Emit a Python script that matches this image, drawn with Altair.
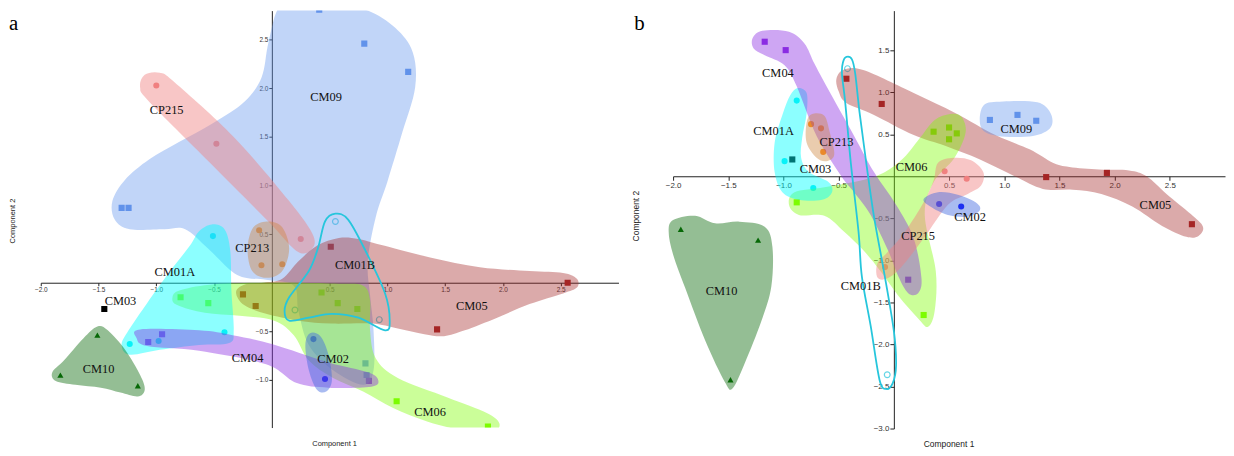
import altair as alt
import pandas as pd

# ======================= PANEL a : data =======================
A_PT_GROUP = (["CM09"] * 7 + ["CP215"] * 3 + ["CP213"] * 3 + ["CM05"] * 5 + ["CM06"] * 7
              + ["CM04"] * 3 + ["CM01A"] * 4 + ["CM03"] + ["CM10"] * 3 + ["CM02"] * 2)
A_PT_X = [0.41, 0.80, 1.18, -1.30, -1.24, 0.81, 0.82,
          -1.00, -0.48, 0.25,
          -0.11, -0.09, 0.09,
          -0.25, -0.14, 0.51, 2.56, 1.43,
          -0.79, -0.55, 0.43, 0.57, 0.74, 1.08, 1.87,
          -1.07, -0.95, 0.84,
          -0.51, -0.41, -1.23, -0.98,
          -1.45,
          -1.51, -1.83, -1.16,
          0.36, 0.46]
A_PT_Y = [2.81, 2.46, 2.17, 0.77, 0.77, -0.83, -0.95,
          2.03, 1.43, 0.45,
          0.54, 0.18, 0.19,
          -0.12, -0.24, 0.37, 0.00, -0.48,
          -0.15, -0.21, -0.10, -0.21, -0.27, -1.22, -1.48,
          -0.61, -0.53, -1.01,
          0.48, -0.51, -0.63, -0.60,
          -0.27,
          -0.54, -0.95, -1.06,
          -0.58, -0.99]
A_OPEN_X = [0.55, 0.20, 0.93]          # CM01B
A_OPEN_Y = [0.63, -0.28, -0.38]

A_LABEL_TEXT = ["CM09", "CP215", "CP213", "CM01B", "CM05", "CM06", "CM04", "CM01A", "CM03", "CM10", "CM02"]
A_LABEL_X = [0.47, -0.91, -0.17, 0.72, 1.73, 1.37, -0.21, -0.84, -1.31, -1.50, 0.53]
A_LABEL_Y = [1.91, 1.78, 0.36, 0.18, -0.24, -1.33, -0.77, 0.105, -0.19, -0.89, -0.79]

A_HULL_CM09 = [(0.06, 2.83), (0.23, 2.88), (0.53, 2.88), (0.83, 2.80), (1.07, 2.62), (1.22, 2.37),
               (1.24, 2.01), (1.13, 1.55), (1.00, 1.04), (0.90, 0.68), (0.83, 0.22), (0.85, -0.13),
               (0.88, -0.49), (0.88, -0.90), (0.79, -1.05), (0.53, -0.90), (0.32, -0.64), (0.23, -0.29),
               (0.19, -0.03), (-0.05, 0.03), (-0.30, 0.08), (-0.55, 0.35), (-0.75, 0.55), (-0.93, 0.55),
               (-1.23, 0.55), (-1.36, 0.65), (-1.38, 0.84), (-1.27, 1.06), (-1.06, 1.27), (-0.80, 1.45),
               (-0.50, 1.65), (-0.24, 1.86), (-0.09, 2.11), (-0.03, 2.47)]
A_HULL_CP215 = [(-1.10, 2.14), (-0.97, 2.16), (-0.84, 2.06), (-0.33, 1.50), (0.15, 0.84), (0.36, 0.48),
                (0.33, 0.33), (0.21, 0.33), (-0.03, 0.63), (-0.54, 1.24), (-1.06, 1.86), (-1.14, 2.01)]
A_HULL_CP213 = [(-0.03, 0.63), (0.09, 0.57), (0.15, 0.35), (0.09, 0.12), (-0.04, 0.05), (-0.17, 0.12),
                (-0.21, 0.35), (-0.16, 0.57)]
A_HULL_CM01A = [(-0.52, 0.60), (-0.41, 0.55), (-0.36, 0.33), (-0.35, -0.08), (-0.33, -0.49), (-0.37, -0.62),
                (-0.63, -0.64), (-0.97, -0.69), (-1.23, -0.74), (-1.30, -0.64), (-1.24, -0.49), (-1.08, -0.21),
                (-0.88, 0.12), (-0.71, 0.38), (-0.63, 0.53)]
A_HULL_CM06 = [(-0.86, -0.15), (-0.80, -0.08), (-0.54, -0.02), (-0.11, 0.00), (0.23, 0.00), (0.58, -0.01),
               (0.79, -0.03), (0.85, -0.18), (0.85, -0.49), (0.90, -0.78), (1.09, -0.98), (1.52, -1.18),
               (1.86, -1.34), (1.97, -1.45), (1.91, -1.54), (1.69, -1.53), (1.35, -1.43), (1.05, -1.29),
               (0.79, -1.12), (0.53, -0.98), (0.32, -0.80), (0.19, -0.54), (0.02, -0.39), (-0.28, -0.34),
               (-0.58, -0.31), (-0.82, -0.23)]
A_HULL_CM05 = [(-0.31, -0.10), (-0.24, -0.02), (-0.07, 0.00), (0.09, 0.04), (0.23, 0.22), (0.39, 0.38),
               (0.58, 0.46), (0.75, 0.45), (0.94, 0.39), (1.37, 0.26), (1.80, 0.16), (2.23, 0.12),
               (2.52, 0.10), (2.64, 0.04), (2.64, -0.05), (2.52, -0.11), (2.23, -0.22), (1.95, -0.36),
               (1.67, -0.49), (1.49, -0.55), (1.32, -0.53), (1.09, -0.47), (0.86, -0.42), (0.52, -0.42),
               (0.23, -0.39), (-0.05, -0.32), (-0.24, -0.23)]
A_HULL_CM04 = [(-1.14, -0.48), (-0.63, -0.49), (-0.34, -0.54), (0.00, -0.63), (0.49, -0.82), (0.83, -0.92),
               (0.92, -1.00), (0.86, -1.07), (0.49, -1.08), (0.21, -1.03), (-0.05, -0.84), (-0.63, -0.70),
               (-1.08, -0.65), (-1.17, -0.57)]
A_HULL_CM02 = [(0.33, -0.52), (0.42, -0.55), (0.49, -0.74), (0.52, -1.00), (0.47, -1.12), (0.39, -1.10),
               (0.32, -0.90), (0.29, -0.64)]
A_HULL_CM10 = [(-1.51, -0.45), (-1.42, -0.49), (-1.27, -0.69), (-1.14, -0.95), (-1.10, -1.10), (-1.16, -1.17),
               (-1.31, -1.13), (-1.48, -1.08), (-1.70, -1.05), (-1.87, -1.01), (-1.90, -0.92), (-1.80, -0.80),
               (-1.63, -0.57)]
A_LOOP_CM01B = [(0.55, 0.71), (0.66, 0.65), (0.81, 0.33), (0.98, -0.11), (1.02, -0.39), (0.98, -0.49),
                (0.75, -0.36), (0.52, -0.32), (0.32, -0.36), (0.15, -0.39), (0.11, -0.29), (0.15, -0.15),
                (0.32, 0.12), (0.40, 0.36), (0.46, 0.63)]

# ======================= PANEL b : data =======================
B_PT_GROUP = (["CM04"] * 3 + ["CM05"] * 5 + ["CM09"] * 3 + ["CM06"] * 6 + ["CP213"] * 3 + ["CM01A"] * 3
              + ["CM03"] + ["CP215"] * 3 + ["CM02"] * 2 + ["CM10"] * 3)
B_PT_X = [-1.17, -0.98, 0.13,
          -0.43, -0.11, 1.38, 1.93, 2.70,
          0.87, 1.12, 1.29,
          0.36, 0.50, 0.57, 0.50, -0.88, 0.27,
          -0.75, -0.66, -0.64,
          -0.88, -0.99, -0.73,
          -0.92,
          0.46, 0.66, -0.08,
          0.41, 0.61,
          -1.93, -1.23, -1.48]
B_PT_Y = [1.60, 1.50, -1.23,
          1.16, 0.86, -0.01, 0.04, -0.57,
          0.67, 0.73, 0.66,
          0.53, 0.58, 0.51, 0.44, -0.31, -1.65,
          0.62, 0.57, 0.29,
          0.90, 0.18, -0.14,
          0.20,
          0.06, -0.03, -1.08,
          -0.33, -0.36,
          -0.63, -0.76, -2.42]
B_OPEN_X = [-0.42, -0.06]               # CM01B
B_OPEN_Y = [1.28, -2.36]

B_LABEL_TEXT = ["CM04", "CM01A", "CP213", "CM03", "CM06", "CM09", "CM05", "CM02", "CP215", "CM01B", "CM10"]
B_LABEL_X = [-1.05, -1.09, -0.52, -0.71, 0.16, 1.11, 2.37, 0.69, 0.22, -0.30, -1.56]
B_LABEL_Y = [1.23, 0.54, 0.41, 0.09, 0.11, 0.56, -0.34, -0.48, -0.71, -1.31, -1.36]

B_HULL_CM05 = [(-0.52, 1.16), (-0.45, 1.27), (-0.27, 1.26), (0.18, 0.99), (0.56, 0.75), (0.92, 0.49),
               (1.23, 0.32), (1.44, 0.16), (1.59, 0.11), (1.86, 0.08), (2.13, 0.07), (2.29, 0.00),
               (2.47, -0.21), (2.69, -0.45), (2.80, -0.60), (2.76, -0.71), (2.65, -0.72), (2.43, -0.59),
               (2.16, -0.36), (1.88, -0.21), (1.62, -0.16), (1.35, -0.15), (1.08, 0.01), (0.78, 0.20),
               (0.47, 0.36), (0.18, 0.49), (-0.18, 0.73), (-0.43, 0.87), (-0.50, 1.01)]
B_HULL_CM06 = [(0.51, 0.74), (0.61, 0.71), (0.65, 0.52), (0.55, 0.22), (0.36, -0.07), (0.28, -0.46),
               (0.38, -1.13), (0.37, -1.60), (0.31, -1.79), (0.22, -1.69), (0.04, -1.42), (-0.12, -1.13),
               (-0.27, -0.89), (-0.45, -0.66), (-0.63, -0.47), (-0.86, -0.46), (-0.95, -0.34), (-0.90, -0.19),
               (-0.63, -0.13), (-0.27, -0.04), (-0.08, 0.05), (0.09, 0.22), (0.25, 0.48), (0.37, 0.67)]
B_HULL_CM09 = [(0.81, 0.84), (0.99, 0.89), (1.30, 0.88), (1.42, 0.75), (1.42, 0.58), (1.26, 0.48),
               (0.94, 0.48), (0.79, 0.58)]
B_HULL_CM01A = [(-0.87, 1.05), (-0.79, 0.99), (-0.79, 0.75), (-0.83, 0.46), (-0.84, 0.22), (-0.77, 0.05),
                (-0.59, -0.07), (-0.56, -0.19), (-0.65, -0.28), (-0.86, -0.28), (-1.01, -0.19), (-1.08, 0.05),
                (-1.08, 0.40), (-1.01, 0.73), (-0.94, 0.96)]
B_HULL_CM04 = [(-1.28, 1.64), (-1.19, 1.73), (-0.95, 1.72), (-0.81, 1.58), (-0.72, 1.34), (-0.61, 1.07),
               (-0.36, 0.48), (-0.18, 0.05), (0.02, -0.34), (0.18, -0.74), (0.25, -1.21), (0.22, -1.39),
               (0.13, -1.39), (0.04, -1.19), (-0.05, -0.89), (-0.21, -0.46), (-0.36, -0.19), (-0.48, 0.01),
               (-0.70, 0.48), (-0.88, 1.07), (-0.99, 1.32), (-1.17, 1.44), (-1.27, 1.52)]
B_HULL_CP213 = [(-0.74, 0.74), (-0.63, 0.72), (-0.58, 0.52), (-0.54, 0.26), (-0.61, 0.18), (-0.70, 0.22),
                (-0.79, 0.40), (-0.79, 0.64)]
B_HULL_CP215 = [(0.40, 0.16), (0.54, 0.22), (0.70, 0.19), (0.81, 0.05), (0.79, -0.11), (0.67, -0.21),
                (0.49, -0.34), (0.27, -0.74), (0.06, -1.09), (-0.07, -1.22), (-0.15, -1.20), (-0.15, -1.04),
                (-0.07, -0.92), (0.09, -0.68), (0.27, -0.31), (0.36, -0.05)]
B_HULL_CM02 = [(0.27, -0.27), (0.40, -0.19), (0.58, -0.22), (0.74, -0.31), (0.78, -0.40), (0.67, -0.48),
               (0.49, -0.46), (0.33, -0.36)]
B_HULL_CM10 = [(-2.00, -0.52), (-1.80, -0.47), (-1.62, -0.56), (-1.40, -0.54), (-1.17, -0.60), (-1.10, -0.84),
               (-1.11, -1.31), (-1.20, -1.72), (-1.35, -2.22), (-1.46, -2.52), (-1.53, -2.45), (-1.71, -1.95),
               (-1.89, -1.33), (-2.00, -0.93), (-2.04, -0.66)]
B_LOOP_CM01B = [(-0.43, 1.42), (-0.38, 1.39), (-0.35, 1.22), (-0.31, 0.75), (-0.25, 0.16), (-0.18, -0.48),
                (-0.09, -1.13), (0.00, -1.84), (0.02, -2.25), (-0.01, -2.46), (-0.07, -2.53), (-0.13, -2.42),
                (-0.21, -1.78), (-0.29, -1.19), (-0.32, -0.66), (-0.39, 0.16), (-0.44, 0.87), (-0.47, 1.22),
                (-0.46, 1.36)]

X_TICKS = [-2.0, -1.5, -1.0, -0.5, 0.5, 1.0, 1.5, 2.0, 2.5]
A_Y_TICKS = [-1.0, -0.5, 0.5, 1.0, 1.5, 2.0, 2.5]
B_Y_TICKS = [-3.0, -2.5, -2.0, -1.5, -1.0, -0.5, 0.5, 1.0, 1.5]

# ======================= styles =======================
POINT_COLOR = {"CM09": "#5f8fe8", "CP215": "#f08080", "CP213": "#ff8c1a", "CM05": "#a52222",
               "CM06": "#7cfc00", "CM04": "#8a2be2", "CM01A": "#10e8f2", "CM03": "#000000",
               "CM10": "#0b6b0b", "CM02": "#0000ff"}
POINT_SHAPE = {"CM09": "square", "CP215": "circle", "CP213": "circle", "CM05": "square",
               "CM06": "square", "CM04": "square", "CM01A": "circle", "CM03": "square",
               "CM10": "triangle-up", "CM02": "circle"}
HULL_COLOR = {"CM09": "#6495ed", "CP215": "#f08080", "CP213": "#cd853f", "CM01A": "#00ffff",
              "CM06": "#7cfc00", "CM05": "#a52a2a", "CM04": "#8a2be2", "CM02": "#4169e1",
              "CM10": "#006400"}
HULL_OPACITY = {"CM09": 0.40, "CP215": 0.45, "CP213": 0.42, "CM01A": 0.45, "CM06": 0.40,
                "CM05": 0.40, "CM04": 0.42, "CM02": 0.45, "CM10": 0.42}
LOOP_COLOR = "#26c6dc"


def build_panel(pt_group, pt_x, pt_y, open_x, open_y, lab_t, lab_x, lab_y, hulls, loop,
                xdom, ydom, w, h, yticks, clip, fs_tick, fs_title, letter, letter_dx, letter_dy,
                t1_dx, t1_dy, t2_dx, t2_dy, tick_size):
    xs = alt.Scale(domain=xdom, nice=False, zero=False)
    ys = alt.Scale(domain=ydom, nice=False, zero=False)
    x0 = (0 - xdom[0]) / (xdom[1] - xdom[0]) * w
    y0 = (ydom[1] - 0) / (ydom[1] - ydom[0]) * h
    common = dict(format=".1f", grid=False, title=None, labelFlush=False, labelOverlap=False,
                  domainColor="#222222", tickColor="#222222", labelColor="#333333",
                  labelFont="Liberation Sans", labelFontSize=fs_tick, tickSize=tick_size,
                  labelPadding=1)
    xaxis = alt.Axis(values=X_TICKS, orient="bottom", offset=-(h - y0), **common)
    yaxis = alt.Axis(values=yticks, orient="left", offset=-x0, **common)

    def X():
        return alt.X("x:Q", scale=xs, axis=xaxis)

    def Y():
        return alt.Y("y:Q", scale=ys, axis=yaxis)

    layers = []
    pts = pd.DataFrame({"g": pt_group, "x": pt_x, "y": pt_y})
    groups = list(POINT_COLOR.keys())
    layers.append(
        alt.Chart(pts).mark_point(filled=True, opacity=1, size=38, clip=clip).encode(
            x=X(), y=Y(),
            color=alt.Color("g:N", scale=alt.Scale(domain=groups, range=[POINT_COLOR[g] for g in groups]),
                            legend=None),
            shape=alt.Shape("g:N", scale=alt.Scale(domain=groups, range=[POINT_SHAPE[g] for g in groups]),
                            legend=None),
        )
    )
    opn = pd.DataFrame({"x": open_x, "y": open_y})
    layers.append(
        alt.Chart(opn).mark_point(filled=False, shape="circle", size=34, color=LOOP_COLOR,
                                  strokeWidth=1.2).encode(x=X(), y=Y())
    )
    for name, outline in hulls:
        df = pd.DataFrame({"x": [p[0] for p in outline], "y": [p[1] for p in outline],
                           "i": list(range(len(outline)))})
        layers.append(
            alt.Chart(df).mark_line(interpolate="cardinal-closed", fill=HULL_COLOR[name],
                                    fillOpacity=HULL_OPACITY[name], strokeOpacity=0, clip=clip).encode(
                x=X(), y=Y(), order=alt.Order("i:Q"))
        )
    dfl = pd.DataFrame({"x": [p[0] for p in loop], "y": [p[1] for p in loop], "i": list(range(len(loop)))})
    layers.append(
        alt.Chart(dfl).mark_line(interpolate="cardinal-closed", color=LOOP_COLOR, strokeWidth=1.8,
                                 clip=clip).encode(x=X(), y=Y(), order=alt.Order("i:Q"))
    )
    labs = pd.DataFrame({"t": lab_t, "x": lab_x, "y": lab_y})
    layers.append(
        alt.Chart(labs).mark_text(font="Liberation Serif", fontSize=12.5, color="#111111",
                                  align="center", baseline="middle").encode(x=X(), y=Y(), text="t:N")
    )
    layers.append(
        alt.Chart(pd.DataFrame({"t": [letter]})).mark_text(
            font="Liberation Serif", fontSize=21, color="#000000", align="left", baseline="alphabetic").encode(
            text="t:N", x=alt.value(letter_dx), y=alt.value(letter_dy))
    )
    layers.append(
        alt.Chart(pd.DataFrame({"t": ["Component 1"]})).mark_text(
            font="Liberation Sans", fontSize=fs_title, color="#222222", align="center", baseline="middle").encode(
            text="t:N", x=alt.value(t1_dx), y=alt.value(t1_dy))
    )
    layers.append(
        alt.Chart(pd.DataFrame({"t": ["Component 2"]})).mark_text(
            font="Liberation Sans", fontSize=fs_title, color="#222222", align="center", baseline="middle",
            angle=270).encode(
            text="t:N", x=alt.value(t2_dx), y=alt.value(t2_dy))
    )
    return alt.layer(*layers).properties(width=w, height=h)


panel_a = build_panel(
    A_PT_GROUP, A_PT_X, A_PT_Y, A_OPEN_X, A_OPEN_Y, A_LABEL_TEXT, A_LABEL_X, A_LABEL_Y,
    [("CM09", A_HULL_CM09), ("CP215", A_HULL_CP215), ("CM05", A_HULL_CM05), ("CM06", A_HULL_CM06),
     ("CM01A", A_HULL_CM01A), ("CP213", A_HULL_CP213), ("CM04", A_HULL_CM04), ("CM02", A_HULL_CM02),
     ("CM10", A_HULL_CM10)],
    A_LOOP_CM01B, [-2.0, 3.0], [-1.49, 2.80], 582, 420, A_Y_TICKS, True, 6.5, 7.5,
    "a", -32, 20, 296, 437, -28, 212, 3)

panel_b = build_panel(
    B_PT_GROUP, B_PT_X, B_PT_Y, B_OPEN_X, B_OPEN_Y, B_LABEL_TEXT, B_LABEL_X, B_LABEL_Y,
    [("CM05", B_HULL_CM05), ("CM06", B_HULL_CM06), ("CM09", B_HULL_CM09), ("CM01A", B_HULL_CM01A),
     ("CM04", B_HULL_CM04), ("CP213", B_HULL_CP213), ("CP215", B_HULL_CP215), ("CM02", B_HULL_CM02),
     ("CM10", B_HULL_CM10)],
    B_LOOP_CM01B, [-2.0, 3.0], [-3.0, 1.97], 556, 421, B_Y_TICKS, False, 8, 8.5,
    "b", -39, 20, 278, 437, -37, 207, 4)

chart = alt.hconcat(panel_a, panel_b, spacing=55, bounds="flush").properties(
    padding={"left": 0, "top": 0, "right": 0, "bottom": 0},
    background="white",
).configure_view(stroke="transparent")

chart.save("out.html", embed_options={"renderer": "svg", "actions": False})
